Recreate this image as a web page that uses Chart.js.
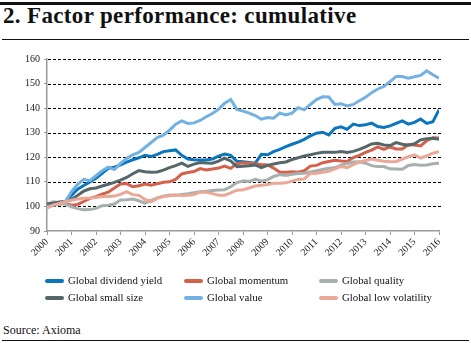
<!DOCTYPE html>
<html>
<head>
<meta charset="utf-8">
<script src="https://cdn.jsdelivr.net/npm/chart.js@4"></script>
<style>
  body { margin: 0; background: #fff; width: 471px; height: 343px; position: relative; overflow: hidden; font-family: "Liberation Serif", serif; color: #111; }
  .topbar { position: absolute; left: 0; top: 2px; width: 471px; height: 3px; background: #111; }
  .title { position: absolute; left: 3px; top: 3px; font-size: 23px; font-weight: bold; letter-spacing: 0.35px; }
  .rule { position: absolute; left: 2px; top: 39px; width: 467px; height: 1px; background: #111; }
  .chart-box { position: absolute; left: 0; top: 45px; width: 471px; height: 230px; }
  .legend { position: absolute; left: 0; top: 274px; width: 471px; }
  .legend .item { position: absolute; font-size: 10.8px; white-space: nowrap; }
  .legend .swatch { display: inline-block; width: 19px; height: 4px; border-radius: 2px; vertical-align: middle; margin-right: 4px; position: relative; top: -1px; }
  .source { position: absolute; left: 3px; top: 323px; font-size: 12px; }
  .bottom { position: absolute; left: 2px; top: 340px; width: 467px; height: 1px; background: #111; }
</style>
</head>
<body>
<div class="topbar"></div>
<div class="title">2. Factor performance: cumulative</div>
<div class="rule"></div>
<div class="chart-box"><canvas id="factorChart" width="471" height="230"></canvas></div>
<div class="legend" id="legend"></div>
<div class="source">Source: Axioma</div>
<div class="bottom"></div>
<script>
// quarterly observation points
const quarters = [];
for (let y = 2000; y <= 2016; y += 0.25) quarters.push(y);

const yearLabels = ['2000','2001','2002','2003','2004','2005','2006','2007','2008','2009','2010','2011','2012','2013','2014','2015','2016'];
const gridValues = [100, 110, 120, 130, 140, 150, 160];

const dividendYield = [100.5,101,101.5,102, 104.5,107,108.5,110, 111.5,113.5,115.5,116, 116.9,118,119,119.8,
  120.8,120.3,121.2,122.3, 122.7,123,120.8,119.3, 119,118.9,118.9,119.3, 120.5,121.3,120.8,118.4,
  118.2,117.9,117.6,121.2, 121,122.3,123.2,124.3, 125.3,126.2,127.3,128.7, 129.8,130.2,129.1,131.8,
  132.4,131.4,133.5,132.9, 133.2,133.9,132.5,132.1, 132.8,133.8,134.8,133.5, 134.2,135.6,133.8,134.5, 139.3];

const momentum = [101,101.2,101,101.2, 100.5,100.8,102,103.3, 104,105,105.8,107.5, 109.1,109.3,108,108.4,
  109.1,108.6,109.2,109.8, 110,111,113.2,113.8, 114.2,115.4,114.8,115.2, 115.6,116.4,115.5,117.4,
  117.8,117.6,117.4,117.1, 116.9,115.6,113.9,113.9, 114.1,113.9,114.5,116.4, 116.7,117.8,118.3,118.8,
  118.5,118.3,119.9,120.8, 122,122.9,124.2,123.2, 124.2,123.4,123.4,125.2, 125,124.6,126.8,127.9, 127.8];

const quality = [101,101.9,101.5,101, 99.8,99.1,98.6,98.7, 99.2,100.3,100.5,101, 102.6,102.7,103,102.3,
  101.3,102.5,103.5,104.2, 104.6,104.5,104.9,105.2, 105.6,106,106.2,106.5, 106.7,106.8,108,109.7,
  110.3,110.2,111,110.4, 110.8,112.2,113,112.6, 113.1,113.4,113.5,114, 114.5,115,115.5,115.7,
  116.8,117.5,118.1,118.2, 117.6,116.6,116.2,116.2, 115.3,115.2,115.1,116.7, 117.1,116.8,116.9,117.4, 117.6];

const smallSize = [101,101.3,101.8,102, 102.8,104.5,106.2,107.2, 107.5,108.3,109,109.8, 110.7,111.8,113.3,114.6,
  114.1,113.9,114,114.8, 115.8,116.6,117.6,116.3, 117.2,117.9,117.7,117.6, 118.4,119.6,118.5,116.2,
  116.4,116.6,116.9,115.8, 116.7,117.3,117.8,118.1, 119.1,119.8,120.5,121, 121.6,122,122,122,
  122.3,122,122.4,123.2, 124.2,125.4,125.7,125, 124.8,126,125.3,124.9, 125.5,127.1,127.5,127.7, 127.3];

const value = [100,100.5,101,102, 106,109,111,110.5, 112.5,114.5,116,115, 117.5,119.5,121,122,
  124,126,128,129, 131,133.5,134.8,133.8, 134,135,136.5,137.8, 139.5,142,143.5,139.5,
  138.8,138,137,135.5, 136.2,135.9,138,137.2, 138,140.2,139.3,141.5, 143.5,144.6,144.5,141.5,
  141.8,140.9,141.5,143, 144.4,146.3,147.8,148.8, 150.8,152.9,152.9,152.2, 152.8,153.3,155.2,153.6, 152.2];

const lowVolatility = [99.3,100.5,101.2,101.9, 102.5,103,103.3,103.4, 103.6,104,104,104.2, 104.9,106,104.8,104.5,
  102.8,102,103.3,104, 104.3,104.6,104.4,104.5, 104.8,105.8,105.8,105.2, 104.6,104.6,105.5,106.6,
  106.8,107.5,108.3,108.6, 108.9,109.4,109.4,109.6, 110.3,111,111.2,113.4, 113.5,113.9,114.3,115.3,
  116.2,115.8,117,118, 118.7,119.3,118.8,118.4, 118.2,118.3,119.3,120.2, 121,119.7,120.6,121.7, 122.3];

const seriesNames = ['Global dividend yield', 'Global momentum', 'Global quality',
                     'Global small size', 'Global value', 'Global low volatility'];
const seriesValues = [dividendYield, momentum, quality, smallSize, value, lowVolatility];
const seriesColors = ['#0a76bd', '#d4614b', '#a6b0ae', '#56676a', '#72b1e2', '#eaa897'];

const datasets = seriesNames.map((name, i) => ({
    label: name,
    data: seriesValues[i].map((v, j) => ({ x: quarters[j], y: v })),
    borderColor: seriesColors[i],
    backgroundColor: seriesColors[i],
    borderWidth: 3,
    pointRadius: 0,
    tension: 0,
    order: 6 - i
}));

const serif = '"Liberation Serif", serif';

// black dashed horizontal guides, placed with the y scale
const dashedGrid = {
    id: 'dashedGrid',
    beforeDatasetsDraw(chart) {
        const { ctx, chartArea, scales } = chart;
        ctx.save();
        ctx.strokeStyle = '#000';
        ctx.lineWidth = 1;
        ctx.setLineDash([3, 2]);
        gridValues.forEach(v => {
            const y = Math.round(scales.y.getPixelForValue(v)) + 0.5;
            ctx.beginPath();
            ctx.moveTo(chartArea.left + 1, y);
            ctx.lineTo(chartArea.right + 2, y);
            ctx.stroke();
        });
        ctx.restore();
    }
};

new Chart(document.getElementById('factorChart'), {
    type: 'line',
    data: { datasets: datasets },
    plugins: [dashedGrid],
    options: {
        responsive: false,
        animation: false,
        layout: { padding: { top: 14, right: 32, left: 0, bottom: 0 } },
        plugins: { legend: { display: false }, tooltip: { enabled: false } },
        scales: {
            x: {
                type: 'linear',
                min: 2000,
                max: 2016,
                afterFit: s => { s.height = 44; },
                ticks: {
                    stepSize: 1,
                    autoSkip: false,
                    minRotation: 45,
                    maxRotation: 45,
                    padding: 1,
                    color: '#1a1a1a',
                    font: { family: serif, size: 10 },
                    callback: (v) => yearLabels[Math.round(v) - 2000]
                },
                grid: { drawOnChartArea: false, drawTicks: true, tickLength: 4, color: '#999' },
                border: { color: '#999', width: 1.5 }
            },
            y: {
                min: 90,
                max: 160,
                afterFit: s => { s.width = 47; },
                ticks: {
                    stepSize: 10,
                    padding: 4,
                    color: '#1a1a1a',
                    font: { family: serif, size: 10 }
                },
                grid: { drawOnChartArea: false, drawTicks: true, tickLength: 3, color: '#999' },
                border: { color: '#999', width: 1.5 }
            }
        }
    }
});

// legend built from the series names, three columns
const legendCols = [45, 184, 319];
const legendRows = [0, 17];
const legend = document.getElementById('legend');
seriesNames.forEach((name, i) => {
    const item = document.createElement('div');
    item.className = 'item';
    item.style.left = legendCols[i % 3] + 'px';
    item.style.top = legendRows[Math.floor(i / 3)] + 'px';
    item.innerHTML = '<span class="swatch" style="background:' + seriesColors[i] + '"></span>' + name;
    legend.appendChild(item);
});
</script>
</body>
</html>
